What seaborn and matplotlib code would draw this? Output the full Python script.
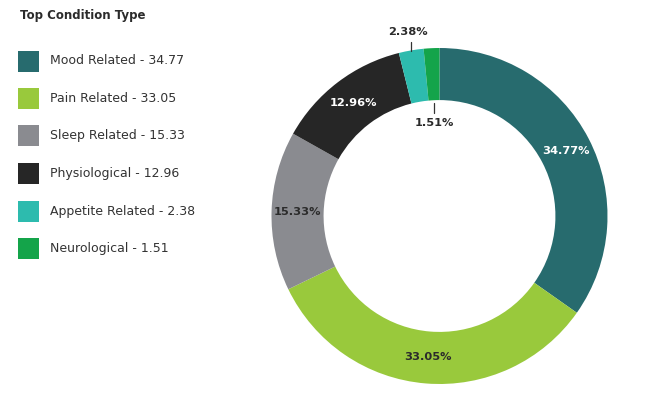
import numpy as np
import matplotlib
matplotlib.use("Agg")
import matplotlib.pyplot as plt
from matplotlib.patches import Rectangle
import seaborn as sns

# Dades del grafic
categories = ["Mood Related", "Pain Related", "Sleep Related", "Physiological",
              "Appetite Related", "Neurological"]
values = [34.77, 33.05, 15.33, 12.96, 2.38, 1.51]
colors = ["#276b6e", "#99c93c", "#8a8b90", "#262626", "#2dbbae", "#14a44a"]
label_colors = ["white", "#2b2b2b", "#2b2b2b", "white", "#2b2b2b", "#2b2b2b"]

sns.set_theme(style="white")
plt.rcParams["font.family"] = ["DejaVu Sans"]

W, H = 668, 394
fig = plt.figure(figsize=(W / 100, H / 100), dpi=100)
fig.patch.set_facecolor("white")

# Titol
fig.text(20 / W, 1 - 15 / H, "Top Condition Type", fontsize=8.5, fontweight="bold",
         color="#2b2b2b", va="center", ha="left")

# Llegenda
for i, (cat, val, col) in enumerate(zip(categories, values, colors)):
    yc = 61 + i * 37.5
    fig.patches.append(Rectangle((18 / W, 1 - (yc + 10.5) / H), 21 / W, 21 / H,
                                 transform=fig.transFigure, facecolor=col,
                                 edgecolor="none"))
    fig.text(50 / W, 1 - yc / H, f"{cat} - {val}",
             fontsize=9, color="#333333", va="center", ha="left")

# Donut
R = 168
cx, cy = 439.5, 216
ax = fig.add_axes([(cx - R) / W, (H - cy - R) / H, 2 * R / W, 2 * R / H])
width = 0.31
wedges, _ = ax.pie(values, colors=colors, startangle=90, counterclock=False,
                   radius=1, wedgeprops=dict(width=width, edgecolor="none"))
ax.set_xlim(-1, 1)
ax.set_ylim(-1, 1)
ax.set_aspect("equal")
ax.axis("off")

# Etiquetes de percentatge
mid_r = 1 - width / 2
for i, (w, val) in enumerate(zip(wedges, values)):
    ang = np.deg2rad((w.theta1 + w.theta2) / 2)
    txt = f"{val:.2f}%"
    if val > 5:
        ax.text(mid_r * np.cos(ang), mid_r * np.sin(ang), txt, ha="center", va="center",
                fontsize=8.2, fontweight="bold", color=label_colors[i])
    elif i == 4:
        # etiqueta fora de l'anell
        x = np.cos(ang)
        y = np.sin(ang)
        ax.plot([x, x], [y - 0.005, y + 0.05], color="#333333", lw=0.9, clip_on=False)
        ax.text(x - 0.02, y + 0.11, txt, ha="center", va="center", fontsize=8.2,
                fontweight="bold", color="#2b2b2b", clip_on=False)
    else:
        # etiqueta dins del forat
        x = (1 - width) * np.cos(ang)
        y = (1 - width) * np.sin(ang)
        ax.plot([x, x], [y - 0.015, y - 0.075], color="#333333", lw=0.9)
        ax.text(x, y - 0.135, txt, ha="center", va="center", fontsize=8.2,
                fontweight="bold", color="#2b2b2b")

plt.savefig("out.png", dpi=100)
plt.close()
